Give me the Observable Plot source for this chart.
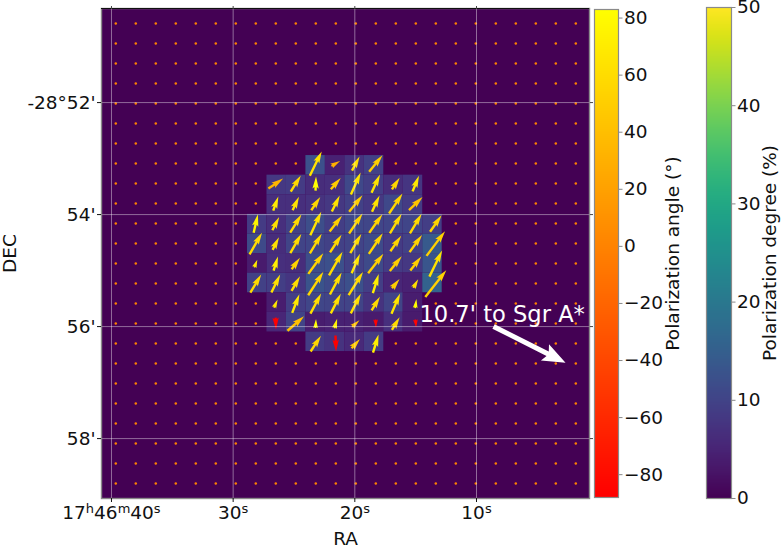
<!DOCTYPE html>
<html><head><meta charset="utf-8">
<script src="https://cdn.jsdelivr.net/npm/d3@7"></script>
<script src="https://cdn.jsdelivr.net/npm/@observablehq/plot@0.6"></script>
<style>
html,body{margin:0;padding:0;background:#fff}
#wrap{position:relative;width:781px;height:546px;overflow:hidden}
#wrap svg{position:absolute;overflow:visible;background:transparent}
</style></head><body><div id="wrap"></div>
<script>
// sky grid of the polarization vectors
const raStart = 39.647, raStep = 1.6438;     // RA seconds after 17h46m
const decStart = 50.589, decStep = 0.35714;  // arcmin south of -28 deg
// image pixels of the degree map (slightly finer than the vector grid)
const cellRaEdge = 28.82, cellRaStep = 1.6;
const cellDecEdge = 52.946, cellDecStep = 0.35;
const gridSize = 24;
const firstCol = 7, firstRow = 7;
const n = null;
// polarization angle (deg) per detected pixel
const angleRows = [
 [n,n,n,64,30,62,51,n,n,n],
 [n,34,58,88,49,66,65,57,68,n],
 [n,70,65,56,64,51,65,56,44,n],
 [77,63,58,65,52,56,55,59,59,55],
 [60,63,60,59,57,60,56,55,54,53],
 [68,73,54,54,60,67,52,51,52,64],
 [59,64,60,57,62,58,73,51,61,52],
 [n,66,69,62,63,63,59,67,82,n],
 [n,-88,41,87,74,42,-87,59,-85,n],
 [n,n,n,57,-88,48,73,n,n,n]
];
// polarization degree (%) per detected pixel
const degreeRows = [
 [n,n,n,12.3,4.5,7.3,9.6,n,n,n],
 [n,8.1,8.6,6.4,6.8,10.9,9.1,6.4,7.7,n],
 [n,6.8,6.8,7.3,8.1,9.6,8.1,10.9,8.6,n],
 [8.6,6.8,9.6,11.8,9.1,10.9,10.4,10.3,10.3,9.1],
 [11.3,6.4,10,10.4,9.6,10,11.3,8.6,9.6,14],
 [3.7,6.8,6.4,11.6,12.3,9.6,11.3,8.6,8.1,13.2],
 [9.6,9.1,7.7,12.7,11.3,12.3,9.1,5.4,4.5,15.5],
 [n,4.1,9.1,10.4,10,10,7.3,10,4.1,n],
 [n,5.4,10,4.1,4.5,4.5,3.7,6.8,3.7,n],
 [n,n,n,8.6,7.3,5.7,8.6,n,n,n]
];
const raTicks = [40,30,20,10];
const decTicks = [52,54,56,58];
const angleTicks = [-80,-60,-40,-20,0,20,40,60,80];
const degreeTicks = [0,10,20,30,40,50];
const angleRange = [-88,83];
const degreeRange = [0,50];
const sgrLabel = "10.7' to Sgr A*";

const ink = "#111";
const fontSize = 18.5;
const font = {fontFamily:"DejaVu Sans",fontSize:fontSize+"px",color:ink};
const autumn = a => d3.interpolateRgb("#ff0000","#ffff00")((a-angleRange[0])/(angleRange[1]-angleRange[0]));
const raOf = i => raStart - raStep*i, decOf = k => decStart + decStep*k;

const detected = [], empty = [];
for (let k=0;k<gridSize;k++) for (let i=0;i<gridSize;i++){
  const a = (angleRows[k-firstRow]||[])[i-firstCol];
  if (a!=null) {
    const c = i-firstCol, r = k-firstRow;
    detected.push({x:raOf(i),y:decOf(k),a,p:degreeRows[r][c],
      x1:cellRaEdge-cellRaStep*c,x2:cellRaEdge-cellRaStep*(c+1),
      y1:cellDecEdge+cellDecStep*r,y2:cellDecEdge+cellDecStep*(r+1)});
  } else empty.push({x:raOf(i),y:decOf(k),a:0});
}
// quiver-style polygon: slender shaft, long narrow head
const shaft = 1.2, barb = 3.2, headLen = 12, headAxis = 10.5;
const quiver = {draw(c,l){
  const s = Math.min(1,l/headLen), L=l/s;
  const q=[[0,shaft],[L-headAxis,shaft],[L-headLen,barb],[L,0],[L-headLen,-barb],[L-headAxis,-shaft],[0,-shaft]];
  q.forEach(([d,w],j)=>{ j? c.lineTo(w*Math.max(s,0.75),-d*s):c.moveTo(w*Math.max(s,0.75),-d*s); });
  c.closePath();
}};
const bigArrow = {draw(c,l){
  const q=[[0,2.5],[l-20,2.5],[l-23,9],[l,0],[l-23,-9],[l-20,-2.5],[0,-2.5]];
  q.forEach(([d,w],j)=>{ j? c.lineTo(w,-d):c.moveTo(w,-d); });
  c.closePath();
}};
const fmtRa = d => d===40 ? "17h46m40s" : d+"s";
const fmtDec = d => d===52 ? "-28°52'" : d+"'";
const blank = () => "";

const main = Plot.plot({
  width:781,height:546,marginLeft:101,marginRight:192,marginTop:8,marginBottom:48,
  style:font,
  x:{domain:[40.82,0.713],label:null},
  y:{domain:[59.07,50.32],label:null},
  color:{type:"linear",scheme:"viridis",domain:degreeRange},
  length:{type:"linear",domain:[0,20],range:[0,44]},
  marks:[
    Plot.frame({fill:d3.interpolateViridis(0),stroke:null}),
    Plot.rect(detected,{x1:"x1",x2:"x2",y1:"y1",y2:"y2",fill:"p",inset:0}),
    Plot.dot(empty,{x:"x",y:"y",r:1.25,fill:{value:d=>autumn(d.a),scale:null},stroke:"none"}),
    Plot.vector(detected,{x:"x",y:"y",length:"p",rotate:d=>90-d.a,anchor:"middle",shape:quiver,
      fill:{value:d=>autumn(d.a),scale:null},stroke:"none"}),
    Plot.gridX(raTicks,{stroke:"#fff",strokeOpacity:0.42,strokeWidth:1}),
    Plot.gridY(decTicks,{stroke:"#fff",strokeOpacity:0.42,strokeWidth:1}),
    Plot.frame({stroke:"#8a8a8a",strokeWidth:1.4}),
    Plot.ruleY([50.32],{stroke:"#111",strokeWidth:1}),
    Plot.text([sgrLabel],{x:14.69,y:55.91,text:d=>d,fill:"#fff",fontSize:22.6,textAnchor:"start",lineAnchor:"bottom"}),
    Plot.vector([{x:8.6,y:56}],{x:"x",y:"y",length:{value:()=>36.6,scale:"length"},rotate:116.6,anchor:"start",shape:bigArrow,fill:"#fff",stroke:"none"}),
    Plot.axisX(raTicks,{anchor:"bottom",tickFormat:fmtRa,tickSize:4,tickPadding:3,fontSize,label:"RA",labelAnchor:"center",labelOffset:46,labelArrow:"none",stroke:ink,fill:ink}),
    Plot.axisY(decTicks,{anchor:"left",tickFormat:fmtDec,tickSize:4,tickPadding:2,fontSize,label:"DEC",labelAnchor:"center",labelOffset:99,labelArrow:"none",stroke:ink,fill:ink}),
    Plot.axisX(raTicks,{anchor:"top",tickFormat:blank,tickSize:3,label:null,stroke:"#444"}),
    Plot.axisY(decTicks,{anchor:"right",tickFormat:blank,tickSize:3,label:null,stroke:"#444"})
  ]
});
// typeset the h, m and s of the RA labels as superscripts
main.querySelectorAll("text").forEach(t=>{
  const leaf = t.querySelector("tspan") || t;
  const s = leaf.textContent;
  if (!/^\d+(h\d+m\d+)?s$/.test(s)) return;
  const parts = s.split(/([hms])/).filter(Boolean);
  leaf.textContent = "";
  parts.forEach(p=>{
    const e = document.createElementNS("http://www.w3.org/2000/svg","tspan");
    e.textContent = p;
    if (/[hms]/.test(p)) { e.setAttribute("font-size","13"); e.setAttribute("baseline-shift","6"); }
    leaf.append(e);
  });
});
main.style.left="0";main.style.top="0";
document.getElementById("wrap").append(main);

function colorbar(left,top,w,h,domain,color,ticks,label,offset,fmt){
  const p = Plot.plot({
    width:w+60,height:h,marginLeft:0,marginRight:60,marginTop:0,marginBottom:0,style:font,
    x:{domain:[0,1],axis:null},
    y:{domain,label:null},
    color,
    marks:[
      Plot.raster({x1:0,x2:1,y1:domain[0],y2:domain[1],width:1,height:256,fill:(x,y)=>y}),
      Plot.frame({stroke:"#8a8a8a",strokeWidth:1.2}),
      Plot.axisY(ticks,{anchor:"right",tickSize:3.5,tickPadding:2,tickFormat:fmt,fontSize,label,labelAnchor:"center",labelOffset:offset,labelArrow:"none",stroke:"#888",fill:ink,color:ink})
    ]
  });
  p.style.left=left+"px";p.style.top=top+"px";
  document.getElementById("wrap").append(p);
}
const minus = d => d<0 ? "−"+(-d) : ""+d;
colorbar(594,9,24,488,angleRange,{type:"linear",domain:angleRange,range:["#ff0000","#ffff00"]},angleTicks,"Polarization angle (°)",60,minus);
colorbar(706,7,25,491,degreeRange,{type:"linear",scheme:"viridis",domain:degreeRange},degreeTicks,"Polarization degree (%)",44,minus);
</script></body></html>
